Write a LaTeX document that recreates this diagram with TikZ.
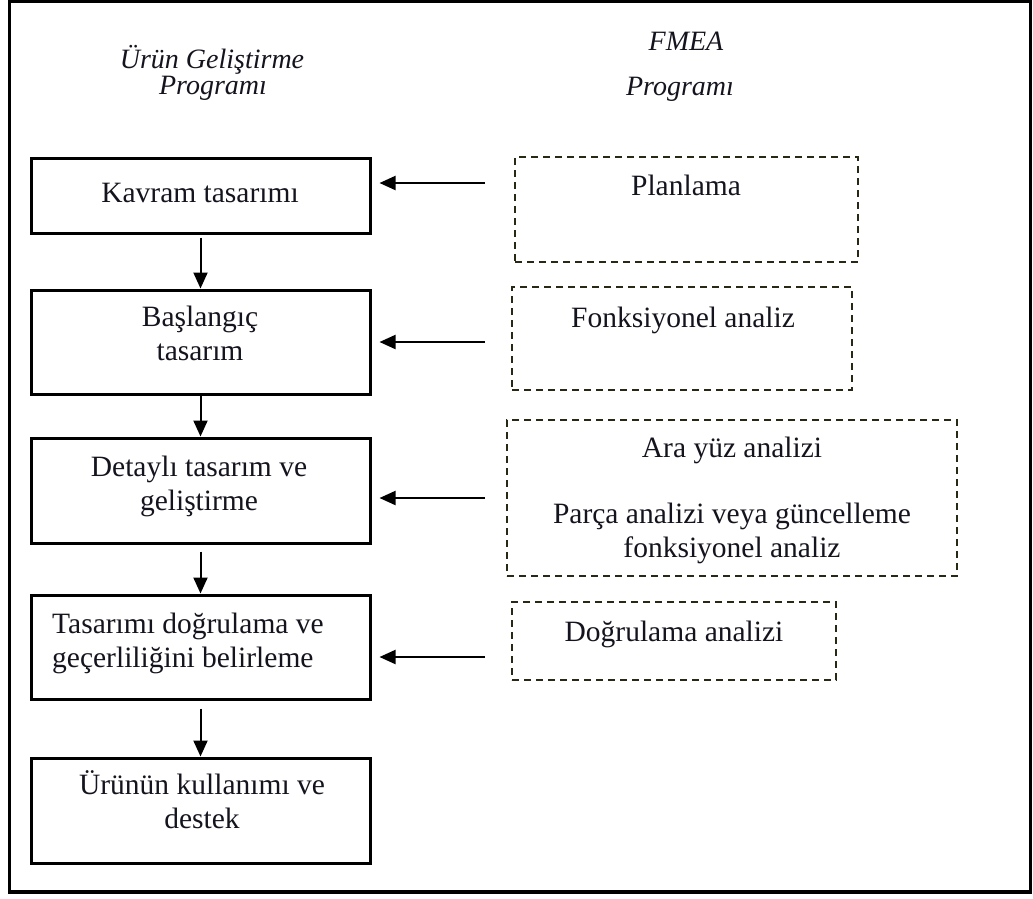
\documentclass[tikz,border=0pt]{standalone}
\usepackage{fontspec}
\setmainfont{Liberation Serif}
\usetikzlibrary{arrows.meta,calc}
\definecolor{ink}{RGB}{20,20,30}
\definecolor{olive}{RGB}{40,40,20}
\tikzset{
  x=1pt, y=-1pt,
  txt/.style={inner sep=0pt, text=ink, font=\fontsize{29.5}{34}\selectfont, align=center},
  hdr/.style={inner sep=0pt, text=ink, font=\fontsize{28}{32}\selectfont\itshape, anchor=base},
  solidbox/.style={draw=black, line width=3pt, minimum width=339pt, inner sep=0pt},
  fmeabox/.style={draw=olive, line width=2.6pt, dash pattern=on 7pt off 5pt, inner sep=0pt},
  arr/.style={draw=black, line width=2pt, -{Triangle[length=16pt,width=14pt]}}
}
\begin{document}
\begin{tikzpicture}
\useasboundingbox (0,0) rectangle (1033,898);
% outer frame
\draw[line width=3.2pt] (9.5,1.6) rectangle (1030.5,892);

% column headings
\node[hdr] (h1a) at (212,68) {Ürün Geliştirme};
\node[hdr] (h1b) at (213,94) {Programı};
\node[hdr] (h2a) at (686,50) {FMEA};
\node[hdr] (h2b) at (680,95) {Programı};

% product development steps
\node[solidbox, minimum height=75pt]  (kav)  at (200.5,195.5) {};
\node[solidbox, minimum height=104pt] (bas)  at (200.5,342)   {};
\node[solidbox, minimum height=105pt] (det)  at (200.5,490.5) {};
\node[solidbox, minimum height=104pt] (dog)  at (200.5,647)   {};
\node[solidbox, minimum height=105pt] (urun) at (200.5,810.5) {};

% (base anchor of a two-line label sits on its last line)
\node[txt, anchor=base] (tkav) at (200,202) {Kavram tasarımı};
\node[txt, anchor=base] (tbas) at (200,360) {Başlangıç\\tasarım};
\node[txt, anchor=base] (tdet) at (199,510) {Detaylı tasarım ve\\geliştirme};
\node[txt, anchor=base west, align=left] (tdog) at (52,667) {Tasarımı doğrulama ve\\geçerliliğini belirleme};
\node[txt, anchor=base] (turun) at (202,828) {Ürünün kullanımı ve\\destek};

% FMEA activities
\node[fmeabox, minimum width=343pt, minimum height=105pt] (plan) at (686.5,209.5) {};
\node[fmeabox, minimum width=340pt, minimum height=103pt] (fonk) at (682,338.5) {};
\node[fmeabox, minimum width=450pt, minimum height=156pt] (ara)  at (732,498) {};
\node[fmeabox, minimum width=324pt, minimum height=78pt]  (dogr) at (674,641) {};

\node[txt, anchor=base] (tplan) at (686,195) {Planlama};
\node[txt, anchor=base] (tfonk) at (683,327) {Fonksiyonel analiz};
\node[txt, anchor=base] (tara)  at (732,457) {Ara yüz analizi};
\node[txt, anchor=base] (tpar)  at (732,557) {Parça analizi veya güncelleme\\fonksiyonel analiz};
\node[txt, anchor=base] (tdogr) at (674,641) {Doğrulama analizi};

% flow of the development program
\draw[arr] ([yshift=-3pt]kav.south) -- (bas.north);
\draw[arr] (bas.south) -- (det.north);
\draw[arr] ([yshift=-7pt]det.south) -- (dog.north);
\draw[arr] ([yshift=-8pt]dog.south) -- (urun.north);

% inputs from the FMEA program
\coordinate (f1) at (485,183);
\coordinate (f2) at (485,342);
\coordinate (f3) at (485,498);
\coordinate (f4) at (485,657);
\draw[arr] (f1) -- ($(kav.east |- f1)+(8,0)$);
\draw[arr] (f2) -- ($(bas.east |- f2)+(8,0)$);
\draw[arr] (f3) -- ($(det.east |- f3)+(8,0)$);
\draw[arr] (f4) -- ($(dog.east |- f4)+(8,0)$);
\end{tikzpicture}
\end{document}
